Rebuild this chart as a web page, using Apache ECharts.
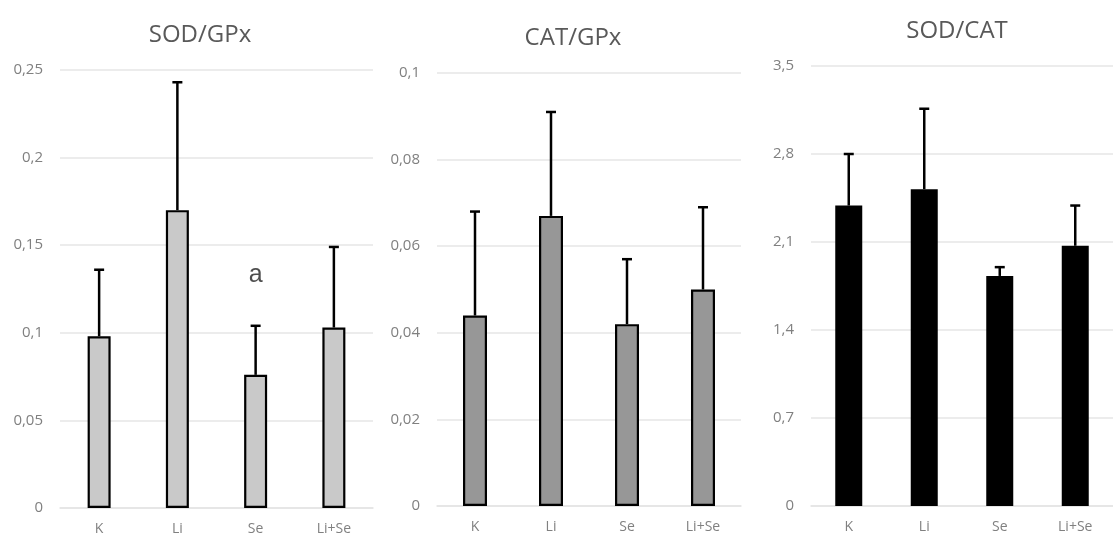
<!DOCTYPE html>
<html>
<head>
<meta charset="utf-8">
<script src="https://cdn.jsdelivr.net/npm/echarts@6/dist/echarts.min.js"></script>
<style>
html,body{margin:0;padding:0;background:#fff;}
#chart{width:1113px;height:536px;}
</style>
</head>
<body>
<div id="chart"></div>
<script>
const categories = ['K', 'Li', 'Se', 'Li+Se'];
const titles = ['SOD/GPx', 'CAT/GPx', 'SOD/CAT'];
const sodGpxMean = [0.098, 0.170, 0.076, 0.103];
const sodGpxErrTop = [0.136, 0.243, 0.104, 0.149];
const catGpxMean = [0.044, 0.067, 0.042, 0.050];
const catGpxErrTop = [0.068, 0.091, 0.057, 0.069];
const sodCatMean = [2.39, 2.52, 1.83, 2.07];
const sodCatErrTop = [2.80, 3.16, 1.90, 2.39];
const yMax = [0.25, 0.1, 3.5];
const yInterval = [0.05, 0.02, 0.7];
const annotations = [{ panel: 0, category: 'Se', value: 0.133, text: 'a' }];

const means = [sodGpxMean, catGpxMean, sodCatMean];
const errs = [sodGpxErrTop, catGpxErrTop, sodCatErrTop];
const fills = ['#c9c9c9', '#979797', '#000000'];
const barWidths = [23, 24, 27];
const grids = [
  { left: 60, right: 740, top: 70, bottom: 28 },
  { left: 437, right: 372, top: 73, bottom: 30 },
  { left: 811, right: -9, top: 66, bottom: 30 }
];
const titlePos = [[195, 30], [568, 33], [952, 26]];

const fmt = v => String(+v.toFixed(4)).replace('.', ',');
const font = '"Open Sans", "Liberation Sans", sans-serif';

const option = {
  animation: false,
  backgroundColor: '#ffffff',
  title: titles.map((t, i) => ({
    text: t,
    left: titlePos[i][0],
    top: titlePos[i][1],
    textAlign: 'center',
    textVerticalAlign: 'middle',
    textStyle: { fontFamily: font, fontSize: 24, fontWeight: 'normal', color: '#595959' }
  })),
  grid: grids,
  xAxis: grids.map((g, i) => ({
    type: 'category',
    gridIndex: i,
    data: categories,
    axisLine: { show: true, lineStyle: { color: '#e3e3e3', width: 1.5 } },
    axisTick: { show: false },
    axisLabel: { fontFamily: font, fontSize: 14, color: '#808080', margin: 14 }
  })),
  yAxis: grids.map((g, i) => ({
    type: 'value',
    gridIndex: i,
    min: 0,
    max: yMax[i],
    interval: yInterval[i],
    axisLine: { show: false },
    axisTick: { show: false },
    splitLine: { lineStyle: { color: '#e6e6e6', width: 1.5 } },
    axisLabel: { fontFamily: font, fontSize: 15, color: '#808080', margin: 17, formatter: fmt }
  })),
  series: []
};

for (let i = 0; i < 3; i++) {
  option.series.push({
    type: 'bar',
    xAxisIndex: i,
    yAxisIndex: i,
    data: means[i],
    barWidth: barWidths[i],
    itemStyle: { color: fills[i], borderColor: '#000', borderWidth: i === 2 ? 0 : 2.2 },
    z: 2
  });
  option.series.push({
    type: 'custom',
    xAxisIndex: i,
    yAxisIndex: i,
    data: errs[i].map((e, k) => [k, means[i][k], e]),
    z: 3,
    renderItem: function (params, api) {
      const base = api.coord([api.value(0), api.value(1)]);
      const top = api.coord([api.value(0), api.value(2)]);
      const cw = 5;
      const style = { stroke: '#000', lineWidth: 2.5, fill: null };
      return {
        type: 'group',
        children: [
          { type: 'line', shape: { x1: base[0], y1: base[1], x2: top[0], y2: top[1] }, style: style },
          { type: 'line', shape: { x1: top[0] - cw, y1: top[1], x2: top[0] + cw, y2: top[1] }, style: style }
        ]
      };
    }
  });
}

annotations.forEach(a => {
  option.series.push({
    type: 'scatter',
    xAxisIndex: a.panel,
    yAxisIndex: a.panel,
    symbolSize: 0,
    data: [[a.category, a.value]],
    label: {
      show: true,
      position: 'inside',
      formatter: a.text,
      fontFamily: '"Liberation Sans", Arial, sans-serif',
      fontSize: 25,
      color: '#222'
    },
    z: 4
  });
});

const chart = echarts.init(document.getElementById('chart'), null, { renderer: 'canvas' });
chart.setOption(option);
</script>
</body>
</html>
